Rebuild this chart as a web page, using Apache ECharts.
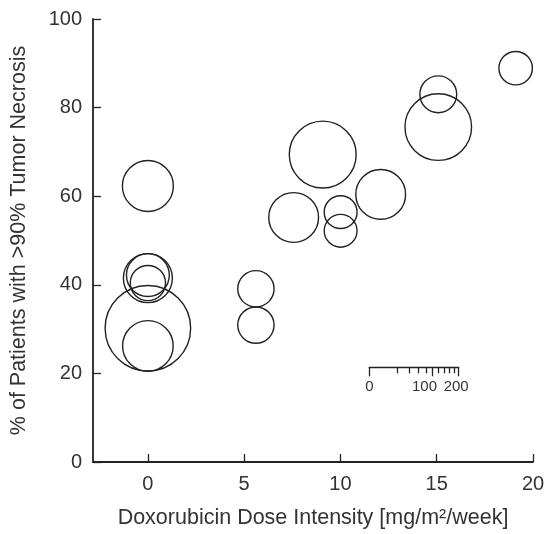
<!DOCTYPE html>
<html>
<head>
<meta charset="utf-8">
<script src="https://cdn.jsdelivr.net/npm/echarts@6/dist/echarts.min.js"></script>
<style>html,body{margin:0;padding:0;background:#fff;}#c{width:550px;height:534px;}</style>
</head>
<body>
<div id="c"></div>
<script>
// Data
const doseIntensity = [0, 0, 0, 0, 0, 0, 5.61, 5.61, 7.57, 9.08, 10.01, 10.01, 12.09, 15.08, 15.08, 19.1];
const necrosisPct   = [62.3, 41.5, 42.2, 40.4, 30.2, 26.2, 39.1, 30.9, 55.2, 69.4, 56.4, 52.2, 60.4, 83.0, 75.6, 88.9];
const patients      = [65, 60, 46, 31, 183, 64, 33, 33, 62, 112, 27, 27, 62, 34, 111, 28];
const xTicks = [0, 5, 10, 15, 20];
const yTicks = [0, 20, 40, 60, 80, 100];
const legendMinorTicks = [20, 40, 60, 80, 120, 140, 160, 180];
const legendLabels = [0, 100, 200];
const legendMax = 200;

const FONT = "'Liberation Sans', Arial, Helvetica, sans-serif";
const INK = '#222222';
const TXT = '#333333';
const LEGEND_PX = 89.4; // legend bar length in px == diameter of a 200-patient bubble

const points = doseIntensity.map((x, i) => [x, necrosisPct[i], patients[i]]);

const chart = echarts.init(document.getElementById('c'), null, {renderer: 'canvas'});
chart.setOption({
  animation: false,
  backgroundColor: '#ffffff',
  grid: [
    {left: 93, top: 19, width: 440, height: 446, containLabel: false},
    {left: 369.3, top: 366.3, width: LEGEND_PX, height: 1, containLabel: false}
  ],
  xAxis: [
    {
      gridIndex: 0, type: 'value', min: -2.85, max: 20,
      name: 'Doxorubicin Dose Intensity [mg/m²/week]',
      nameLocation: 'middle', nameGap: 45,
      nameTextStyle: {fontFamily: FONT, fontSize: 21.5, color: TXT},
      axisLine: {show: true, onZero: false, lineStyle: {color: INK, width: 1.8}},
      axisTick: {show: true, inside: true, length: 8, customValues: xTicks, lineStyle: {color: INK, width: 1.3}},
      axisLabel: {show: true, customValues: xTicks, margin: 12, fontFamily: FONT, fontSize: 20, color: TXT},
      splitLine: {show: false}
    },
    {
      gridIndex: 1, type: 'value', min: 0, max: Math.sqrt(legendMax), position: 'bottom',
      axisLine: {show: true, onZero: false, lineStyle: {color: INK, width: 1.3}},
      axisTick: {show: true, inside: false, length: 6, customValues: legendMinorTicks.map(Math.sqrt), lineStyle: {color: INK, width: 1.3}},
      axisLabel: {show: false},
      splitLine: {show: false}
    },
    {
      gridIndex: 1, type: 'value', min: 0, max: Math.sqrt(legendMax), position: 'bottom',
      axisLine: {show: false, onZero: false},
      axisTick: {show: true, inside: false, length: 9, customValues: legendLabels.map(Math.sqrt), lineStyle: {color: INK, width: 1.3}},
      axisLabel: {show: true, customValues: legendLabels.map(Math.sqrt), margin: 12,
        formatter: v => {
          const n = Math.round(v * v);
          if (n === 100) return '{m|' + n + '}';
          if (n === 200) return '{e|' + n + '}';
          return '{s|' + n + '}';
        },
        rich: {
          s: {fontFamily: FONT, fontSize: 15, color: TXT},
          m: {fontFamily: FONT, fontSize: 15, color: TXT, padding: [0, 16, 0, 0]},
          e: {fontFamily: FONT, fontSize: 15, color: TXT, padding: [0, 5, 0, 0]}
        },
        fontFamily: FONT, fontSize: 15, color: TXT},
      splitLine: {show: false}
    }
  ],
  yAxis: [
    {
      gridIndex: 0, type: 'value', min: 0, max: 100, interval: 20,
      name: '% of Patients with >90% Tumor Necrosis',
      nameLocation: 'middle', nameGap: 63,
      nameTextStyle: {fontFamily: FONT, fontSize: 21.5, color: TXT},
      axisLine: {show: true, onZero: false, lineStyle: {color: INK, width: 1.8}},
      axisTick: {show: true, inside: true, length: 8, lineStyle: {color: INK, width: 1.3}},
      axisLabel: {show: true, margin: 11, fontFamily: FONT, fontSize: 20, color: TXT},
      splitLine: {show: false}
    },
    {gridIndex: 1, type: 'value', show: false, min: 0, max: 1}
  ],
  series: [{
    type: 'scatter',
    xAxisIndex: 0, yAxisIndex: 0,
    data: points,
    symbol: 'circle',
    symbolSize: v => LEGEND_PX * Math.sqrt(v[2] / legendMax),
    itemStyle: {color: 'rgba(0,0,0,0)', borderColor: INK, borderWidth: 1.4, opacity: 1},
    emphasis: {disabled: true},
    silent: true
  }]
});
</script>
</body>
</html>
